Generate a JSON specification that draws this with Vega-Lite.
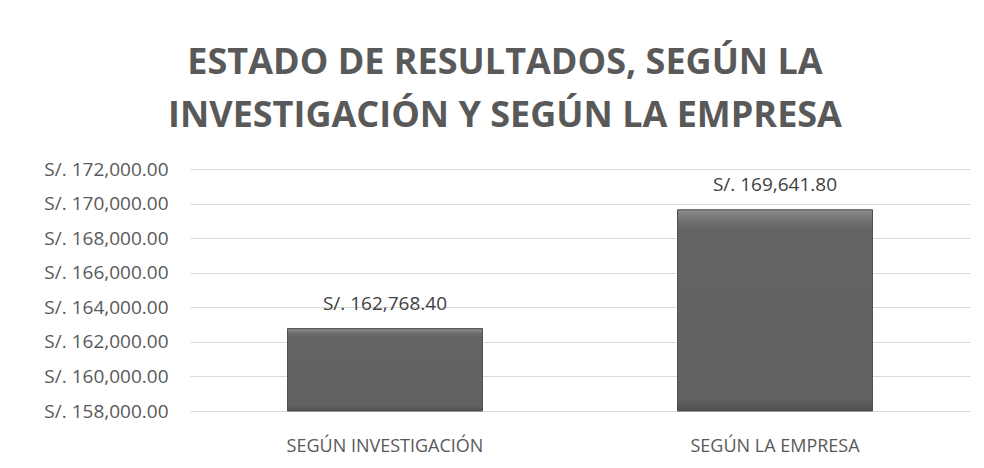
{
  "$schema": "https://vega.github.io/schema/vega-lite/v6.json",
  "autosize": "none",
  "width": 780,
  "height": 242,
  "padding": {"left": 190, "top": 169, "right": 14, "bottom": 57},
  "background": "white",
  "title": {
    "text": ["ESTADO DE RESULTADOS, SEGÚN LA", "INVESTIGACIÓN Y SEGÚN LA EMPRESA"],
    "font": "Open Sans",
    "fontSize": 36,
    "fontWeight": "bold",
    "color": "#595959",
    "lineHeight": 53,
    "anchor": "middle",
    "dx": -75,
    "offset": 25
  },
  "data": {
    "values": [
      {"categoria": "SEGÚN INVESTIGACIÓN", "monto": 162768.40},
      {"categoria": "SEGÚN LA EMPRESA", "monto": 169641.80}
    ]
  },
  "encoding": {
    "x": {
      "field": "categoria",
      "type": "nominal",
      "sort": null,
      "scale": {"paddingInner": 0.5, "paddingOuter": 0.25},
      "axis": {
        "title": null,
        "labelAngle": 0,
        "labelFont": "Open Sans",
        "labelFontSize": 18,
        "labelColor": "#595959",
        "labelPadding": 26,
        "labelLimit": 400,
        "domain": true,
        "domainColor": "#d9d9d9",
        "ticks": false
      }
    },
    "y": {
      "field": "monto",
      "type": "quantitative",
      "scale": {"domain": [158000, 172000], "zero": false, "nice": false},
      "axis": {
        "title": null,
        "values": [158000, 160000, 162000, 164000, 166000, 168000, 170000, 172000],
        "labelExpr": "'S/. ' + format(datum.value, ',.2f')",
        "labelFont": "Open Sans",
        "labelFontSize": 19,
        "labelColor": "#595959",
        "labelPadding": 22,
        "labelLimit": 300,
        "domain": false,
        "ticks": false,
        "grid": true,
        "gridColor": "#d9d9d9",
        "gridWidth": 1
      }
    }
  },
  "layer": [
    {
      "mark": {
        "type": "bar",
        "color": {
          "gradient": "linear",
          "x1": 0, "y1": 0, "x2": 0, "y2": 1,
          "stops": [
            {"offset": 0, "color": "#8c8c8c"},
            {"offset": 0.06, "color": "#6e6e6e"},
            {"offset": 0.1, "color": "#646464"},
            {"offset": 0.94, "color": "#626262"},
            {"offset": 1, "color": "#4f4f4f"}
          ]
        },
        "stroke": "#505050",
        "strokeWidth": 1
      },
      "encoding": {
        "y2": {"datum": 158000}
      }
    },
    {
      "mark": {
        "type": "text",
        "baseline": "alphabetic",
        "dy": -19,
        "font": "Open Sans",
        "fontSize": 19,
        "color": "#404040",
        "text": {"expr": "'S/. ' + format(datum.monto, ',.2f')"}
      }
    }
  ],
  "config": {"view": {"stroke": null}}
}
